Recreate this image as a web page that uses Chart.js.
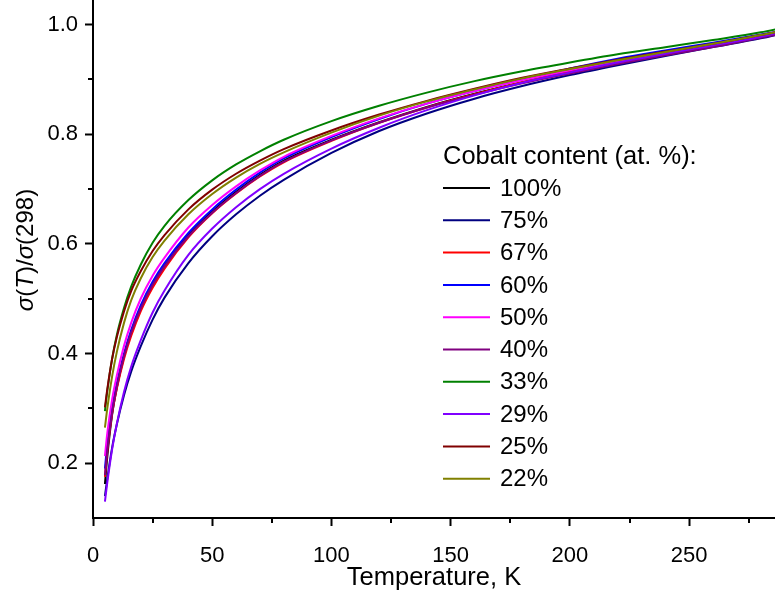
<!DOCTYPE html>
<html>
<head>
<meta charset="utf-8">
<script src="https://cdn.jsdelivr.net/npm/chart.js@4.4.1/dist/chart.umd.min.js"></script>
<style>
  body { margin: 0; background: #fff; }
  #wrap { width: 775px; height: 590px; }
</style>
</head>
<body>
<div id="wrap"><canvas id="graphe" width="775" height="590"></canvas></div>
<script>
var temps = [5, 6, 8, 10, 13, 16, 20, 25, 30, 40, 50, 60, 70, 80, 100, 120, 140, 160, 180, 200, 220, 240, 260, 280, 290];

// sigma(T)/sigma(298) for each cobalt content
var co100 = [0.162, 0.212, 0.288, 0.338, 0.394, 0.437, 0.482, 0.526, 0.560, 0.616, 0.659, 0.695, 0.726, 0.752, 0.790, 0.822, 0.850, 0.874, 0.895, 0.914, 0.931, 0.947, 0.962, 0.979, 0.988];
var co75  = [0.140, 0.172, 0.228, 0.271, 0.324, 0.367, 0.413, 0.462, 0.502, 0.565, 0.614, 0.654, 0.688, 0.717, 0.766, 0.806, 0.838, 0.865, 0.888, 0.908, 0.926, 0.943, 0.959, 0.975, 0.985];
var co67  = [0.175, 0.222, 0.290, 0.336, 0.390, 0.432, 0.477, 0.520, 0.555, 0.612, 0.656, 0.692, 0.723, 0.749, 0.788, 0.821, 0.849, 0.873, 0.895, 0.914, 0.931, 0.947, 0.962, 0.979, 0.988];
var co60  = [0.190, 0.235, 0.300, 0.346, 0.400, 0.443, 0.488, 0.531, 0.565, 0.620, 0.663, 0.699, 0.730, 0.756, 0.795, 0.828, 0.856, 0.879, 0.900, 0.920, 0.938, 0.953, 0.967, 0.982, 0.990];
var co50  = [0.213, 0.255, 0.316, 0.360, 0.414, 0.456, 0.500, 0.542, 0.575, 0.630, 0.671, 0.705, 0.734, 0.759, 0.797, 0.829, 0.856, 0.879, 0.899, 0.917, 0.933, 0.949, 0.964, 0.980, 0.990];
var co40  = [0.178, 0.224, 0.292, 0.340, 0.395, 0.438, 0.482, 0.525, 0.559, 0.614, 0.657, 0.693, 0.724, 0.750, 0.789, 0.821, 0.849, 0.872, 0.893, 0.911, 0.928, 0.944, 0.959, 0.976, 0.985];
var co33  = [0.295, 0.332, 0.390, 0.434, 0.483, 0.522, 0.562, 0.602, 0.633, 0.680, 0.716, 0.745, 0.769, 0.790, 0.824, 0.852, 0.876, 0.897, 0.915, 0.931, 0.946, 0.959, 0.972, 0.986, 0.995];
var co29  = [0.130, 0.165, 0.225, 0.272, 0.330, 0.376, 0.424, 0.475, 0.515, 0.580, 0.628, 0.667, 0.700, 0.728, 0.774, 0.812, 0.844, 0.871, 0.894, 0.913, 0.931, 0.947, 0.962, 0.978, 0.988];
var co25  = [0.302, 0.335, 0.390, 0.430, 0.477, 0.514, 0.550, 0.587, 0.616, 0.663, 0.699, 0.728, 0.752, 0.773, 0.807, 0.836, 0.861, 0.883, 0.903, 0.920, 0.936, 0.951, 0.965, 0.981, 0.990];
var co22  = [0.265, 0.300, 0.358, 0.403, 0.456, 0.497, 0.537, 0.576, 0.606, 0.654, 0.691, 0.721, 0.746, 0.767, 0.803, 0.834, 0.860, 0.882, 0.902, 0.919, 0.935, 0.950, 0.965, 0.981, 0.990];

var seriesLabels = ["100%", "75%", "67%", "60%", "50%", "40%", "33%", "29%", "25%", "22%"];
var seriesValues = [co100, co75, co67, co60, co50, co40, co33, co29, co25, co22];
var seriesColors = ["#000000", "#000080", "#ff0000", "#0000ff", "#ff00ff", "#800080", "#008000", "#8000ff", "#800000", "#808000"];

// tick labels
var xTicks = [0, 50, 100, 150, 200, 250];
var xMinor = [25, 75, 125, 175, 225, 275];
var yTicks = [0.2, 0.4, 0.6, 0.8, 1.0];
var yMinor = [0.3, 0.5, 0.7, 0.9];

var legendTitle = "Cobalt content (at. %):";
var FONT = "'Liberation Sans', Arial, sans-serif";

var myChart;

//minor ticks + legend + y title, drawn after the chart
var extras = {
    id: "extras",
    afterDraw: function(chart){
        var ctx = chart.ctx;
        var xs = chart.scales.x, ys = chart.scales.y;
        var area = chart.chartArea;
        ctx.save();
        ctx.strokeStyle = "#000";
        ctx.lineWidth = 2;
        //minor ticks
        xMinor.forEach(function(v){
            var px = Math.round(xs.getPixelForValue(v));
            ctx.beginPath();
            ctx.moveTo(px, area.bottom);
            ctx.lineTo(px, area.bottom + 5);
            ctx.stroke();
        });
        yMinor.forEach(function(v){
            var py = Math.round(ys.getPixelForValue(v));
            ctx.beginPath();
            ctx.moveTo(area.left, py);
            ctx.lineTo(area.left - 5, py);
            ctx.stroke();
        });
        //legend
        ctx.fillStyle = "#000";
        ctx.font = "25.5px " + FONT;
        ctx.textBaseline = "middle";
        ctx.textAlign = "left";
        ctx.fillText(legendTitle, 443, 157);
        ctx.font = "24px " + FONT;
        chart.data.datasets.forEach(function(ds, i){
            var y = 188 + i * 32.3;
            ctx.strokeStyle = ds.borderColor;
            ctx.beginPath();
            ctx.moveTo(443, y);
            ctx.lineTo(490, y);
            ctx.stroke();
            ctx.fillText(ds.label, 500, y + 1);
        });
        //y title, with italic sigma and T
        var parts = [["σ", true], ["(", false], ["T", true], [")/", false], ["σ", true], ["(298)", false]];
        ctx.translate(26, 250);
        ctx.rotate(-Math.PI / 2);
        var total = 0;
        parts.forEach(function(p){
            ctx.font = (p[1] ? "italic " : "") + "24px " + FONT;
            total += ctx.measureText(p[0]).width;
        });
        var cx = -total / 2;
        parts.forEach(function(p){
            ctx.font = (p[1] ? "italic " : "") + "24px " + FONT;
            ctx.fillText(p[0], cx, 0);
            cx += ctx.measureText(p[0]).width;
        });
        ctx.restore();
    }
};

function insertGraph(){
    var ctx = document.getElementById('graphe').getContext('2d');
    var datasets = seriesLabels.map(function(lab, i){
        return {
            label: lab,
            data: temps.map(function(t, j){ return {x: t, y: seriesValues[i][j]}; }),
            borderColor: seriesColors[i],
            backgroundColor: seriesColors[i],
            borderWidth: 2,
            pointRadius: 0,
            fill: false,
            cubicInterpolationMode: 'monotone',
            order: seriesLabels.length - i
        };
    });
    myChart = new Chart(ctx, {
        type: 'line',
        data: { datasets: datasets },
        plugins: [extras],
        options: {
            responsive: false,
            animation: false,
            devicePixelRatio: 1,
            layout: { padding: 0 },
            plugins: { legend: { display: false }, tooltip: { enabled: false } },
            scales: {
                x: {
                    type: 'linear',
                    min: 0,
                    max: 286,
                    afterBuildTicks: function(s){ s.ticks = xTicks.map(function(v){ return {value: v}; }); },
                    afterFit: function(s){ s.height = 72; s.paddingLeft = 0; s.paddingRight = 0; },
                    grid: { drawOnChartArea: false, drawTicks: true, tickLength: 8, tickWidth: 2, tickColor: '#000' },
                    border: { display: true, color: '#000', width: 2 },
                    ticks: { color: '#000', font: { family: FONT, size: 22 }, padding: 17, maxRotation: 0 },
                    title: { display: true, text: 'Temperature, K', color: '#000', font: { family: FONT, size: 25.5 }, padding: { top: 0, bottom: -3 } }
                },
                y: {
                    min: 0.1,
                    max: 1.045,
                    afterBuildTicks: function(s){ s.ticks = yTicks.map(function(v){ return {value: v}; }); },
                    afterFit: function(s){ s.width = 93; s.paddingTop = 0; s.paddingBottom = 0; },
                    grid: { drawOnChartArea: false, drawTicks: true, tickLength: 8, tickWidth: 2, tickColor: '#000' },
                    border: { display: true, color: '#000', width: 2 },
                    ticks: { color: '#000', font: { family: FONT, size: 22 }, padding: 7,
                        callback: function(v){ return v.toFixed(1); } },
                    title: { display: false }
                }
            }
        }
    });
}
insertGraph();
</script>
</body>
</html>
